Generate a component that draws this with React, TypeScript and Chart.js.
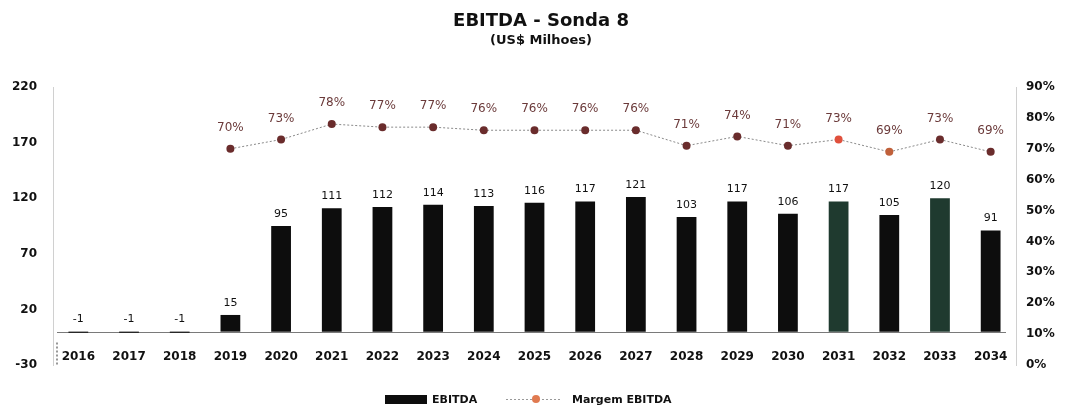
import React, { useEffect, useRef } from 'react';
import { Chart, registerables } from 'chart.js';

Chart.register(...registerables);

const TITLE = 'EBITDA - Sonda 8';
const SUBTITLE = '(US$ Milhoes)';
const years = ['2016', '2017', '2018', '2019', '2020', '2021', '2022', '2023', '2024', '2025', '2026', '2027', '2028', '2029', '2030', '2031', '2032', '2033', '2034'];
const ebitda = [-1, -1, -1, 15, 95, 111, 112, 114, 113, 116, 117, 121, 103, 117, 106, 117, 105, 120, 91];
const margem = [null, null, null, 70, 73, 78, 77, 77, 76, 76, 76, 76, 71, 74, 71, 73, 69, 73, 69];
const leftAxis = { min: -30, max: 220, step: 50 };
const rightAxis = { min: 0, max: 90, step: 10 };
const seriesNames = ['EBITDA', 'Margem EBITDA'];

const FONT = '"DejaVu Sans", sans-serif';

const barColors = years.map((y) => (y === '2031' || y === '2033' ? '#1f3a2f' : '#0d0d0d'));
const pointColors = years.map((y) => (y === '2031' ? '#e0503c' : y === '2032' ? '#c0603a' : '#6a2c2c'));

const drawPlugin = {
  id: 'customDraw',
  beforeDraw(chart: any) {
    const { ctx, width, height } = chart;
    ctx.save();
    ctx.fillStyle = '#ffffff';
    ctx.fillRect(0, 0, width, height);
    ctx.restore();
  },
  beforeDatasetsDraw(chart: any) {
    const { ctx, chartArea } = chart;
    const y = chart.scales.y;
    const y0 = Math.round(y.getPixelForValue(0)) + 0.5;
    ctx.save();
    ctx.strokeStyle = '#7a7a7a';
    ctx.lineWidth = 1.2;
    ctx.beginPath();
    ctx.moveTo(chartArea.left + 4, y0);
    ctx.lineTo(chartArea.right - 10, y0);
    ctx.stroke();
    // small dashed tick at left bottom
    ctx.setLineDash([2, 2]);
    ctx.strokeStyle = '#555';
    ctx.beginPath();
    ctx.moveTo(chartArea.left + 4, y0 + 10);
    ctx.lineTo(chartArea.left + 4, chartArea.bottom);
    ctx.stroke();
    ctx.restore();
  },
  afterDraw(chart: any) {
    const { ctx, chartArea } = chart;
    const x = chart.scales.x;
    const y = chart.scales.y;
    const cx = (chartArea.left + chartArea.right) / 2;
    ctx.save();
    // titles
    ctx.fillStyle = '#111';
    ctx.textAlign = 'center';
    ctx.textBaseline = 'middle';
    ctx.font = `bold 18px ${FONT}`;
    ctx.fillText(TITLE, 541, 21);
    ctx.font = `bold 13px ${FONT}`;
    ctx.fillText(SUBTITLE, 541, 41);

    // x labels inside plot
    ctx.font = `bold 12px ${FONT}`;
    ctx.fillStyle = '#111';
    const ly = y.getPixelForValue(-23);
    years.forEach((lab, i) => {
      ctx.fillText(lab, x.getPixelForValue(i), ly);
    });

    // bar labels
    const barMeta = chart.getDatasetMeta(0);
    ctx.font = `11px ${FONT}`;
    ctx.fillStyle = '#111';
    barMeta.data.forEach((el: any, i: number) => {
      const top = Math.min(el.y, el.base);
      ctx.fillText(String(ebitda[i]), el.x, top - 12);
    });

    // line labels
    const lineMeta = chart.getDatasetMeta(1);
    ctx.font = `12px ${FONT}`;
    ctx.fillStyle = '#6b3a3a';
    lineMeta.data.forEach((el: any, i: number) => {
      const v = margem[i];
      if (v === null || v === undefined) return;
      ctx.fillText(`${v}%`, el.x, el.y - 21);
    });

    // legend
    const legY = 399;
    ctx.fillStyle = '#0d0d0d';
    ctx.fillRect(385, legY - 4, 42, 9);
    ctx.textAlign = 'left';
    ctx.font = `bold 11px ${FONT}`;
    ctx.fillStyle = '#111';
    ctx.fillText(seriesNames[0], 432, legY + 1);
    ctx.strokeStyle = '#999';
    ctx.lineWidth = 1;
    ctx.setLineDash([2, 2]);
    ctx.beginPath();
    ctx.moveTo(506, legY + 0.5);
    ctx.lineTo(562, legY + 0.5);
    ctx.stroke();
    ctx.setLineDash([]);
    ctx.fillStyle = '#e07a50';
    ctx.beginPath();
    ctx.arc(536, legY, 4, 0, Math.PI * 2);
    ctx.fill();
    ctx.fillStyle = '#111';
    ctx.fillText(seriesNames[1], 572, legY + 1);
    ctx.restore();
  },
};

export default function App() {
  const ref = useRef<HTMLCanvasElement | null>(null);
  useEffect(() => {
    document.body.style.margin = '0';
    const canvas = ref.current;
    if (!canvas) return;
    const chart = new Chart(canvas, {
      type: 'bar',
      data: {
        labels: years,
        datasets: [
          {
            type: 'bar',
            label: seriesNames[0],
            data: ebitda,
            backgroundColor: barColors,
            borderWidth: 0,
            yAxisID: 'y',
            categoryPercentage: 1,
            barPercentage: 0.39,
            order: 2,
          },
          {
            type: 'line',
            label: seriesNames[1],
            data: margem as any,
            borderColor: '#8a8a8a',
            borderWidth: 1,
            borderDash: [2, 2],
            pointRadius: 4,
            pointBackgroundColor: pointColors,
            pointBorderWidth: 0,
            yAxisID: 'y1',
            order: 1,
          },
        ],
      },
      options: {
        animation: false,
        responsive: false,
        events: [],
        layout: { padding: { top: 87, bottom: 42, left: 0, right: 0 } },
        plugins: {
          legend: { display: false },
          title: { display: false },
          tooltip: { enabled: false },
        },
        scales: {
          x: {
            display: false,
            offset: true,
            grid: { display: false },
          },
          y: {
            position: 'left',
            min: leftAxis.min,
            max: leftAxis.max,
            afterFit: (s: any) => { s.width = 53; },
            ticks: {
              stepSize: leftAxis.step,
              padding: 16,
              color: '#111',
              font: { family: FONT, size: 12, weight: 'bold' },
            },
            grid: { display: false, drawTicks: false },
            border: { display: true, color: '#d0d0d0' },
          },
          y1: {
            position: 'right',
            min: rightAxis.min,
            max: rightAxis.max,
            afterFit: (s: any) => { s.width = 61; },
            ticks: {
              stepSize: rightAxis.step,
              padding: 10,
              color: '#111',
              font: { family: FONT, size: 12, weight: 'bold' },
              callback: (v: any) => `${v}%`,
            },
            grid: { display: false, drawTicks: false },
            border: { display: true, color: '#d0d0d0' },
          },
        },
      },
      plugins: [drawPlugin],
    } as any);
    return () => chart.destroy();
  }, []);
  return (
    <div style={{ width: 1077, height: 407 }}>
      <canvas ref={ref} width={1077} height={407} style={{ display: 'block' }} />
    </div>
  );
}
